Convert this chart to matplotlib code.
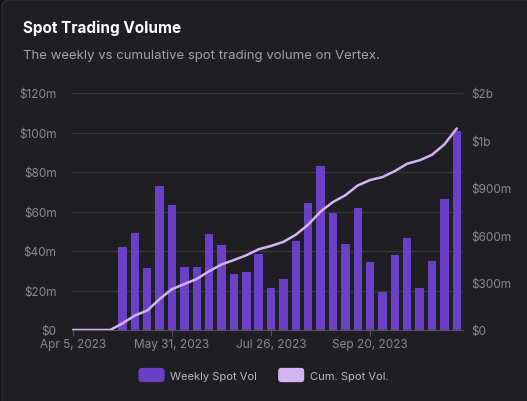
import numpy as np
import pandas as pd
import matplotlib
matplotlib.use("Agg")
import matplotlib.pyplot as plt
from matplotlib.patches import FancyBboxPatch, Patch
from matplotlib.legend_handler import HandlerPatch

# weekly spot volume in $m, one entry per week starting Apr 5, 2023
weeks = pd.date_range("2023-04-05", periods=32, freq="7D")
weekly_vol = [0, 0, 0, 0,
              42.2, 49.3, 31.2, 72.9, 63.1, 32.1, 32.1, 48.8, 43.2, 28.2,
              29.4, 38.3, 21.1, 25.8, 44.9, 64.5, 83.2, 59.2, 43.5, 61.6,
              34.6, 19.2, 37.8, 46.6, 21.4, 34.9, 66.2, 100.8]
# cumulative spot volume in $m
cum_vol = [0, 0, 0, 0,
           42, 92, 123, 196, 259, 291, 323, 372, 415, 443,
           473, 511, 532, 558, 603, 667, 750, 810, 853, 915,
           949, 968, 1006, 1053, 1074, 1109, 1175, 1276]

left_ticks = [0, 20, 40, 60, 80, 100, 120]
left_labels = ["$0", "$20m", "$40m", "$60m", "$80m", "$100m", "$120m"]
right_ticks = [0, 300, 600, 900, 1200, 1500]
right_labels = ["$0", "$300m", "$600m", "$900m", "$1b", "$2b"]
xtick_idx = [0, 8, 16, 24]

BG = "#1f1e23"
GRID = "#36353b"
TXT = "#8b8a91"
BAR = "#6940c6"
LINE = "#d2b4f2"

plt.rcParams["font.family"] = ["Inter", "DejaVu Sans"]

fig = plt.figure(figsize=(5.27, 4.02), dpi=100)
fig.patch.set_facecolor("#141317")
card = FancyBboxPatch((2 / 527, -0.05), 1.2, 1.05 - 1 / 402,
                      boxstyle="round,pad=0,rounding_size=0.015",
                      transform=fig.transFigure, facecolor=BG,
                      edgecolor="#2e2d33", linewidth=1, zorder=-10)
fig.patches.append(card)

fig.text(23 / 527, 1 - 33 / 402, "Spot Trading Volume", color="white",
         fontsize=11, fontweight="bold", va="baseline")
fig.text(23 / 527, 1 - 59 / 402,
         "The weekly vs cumulative spot trading volume on Vertex.",
         color="#a3a2a9", fontsize=9.5, va="baseline")

ax = fig.add_axes([72 / 527, 1 - 331 / 402, 391 / 527, 237 / 402])
ax.set_facecolor("none")
x = np.arange(len(weeks))
ax.bar(x, weekly_vol, width=0.68, color=BAR, zorder=2)
ax.set_xlim(-0.08, 31.5)
ax.set_ylim(0, 120)
ax.set_yticks(left_ticks)
ax.set_yticklabels(left_labels)
ax.set_xticks(xtick_idx)
ax.set_xticklabels([f"{weeks[i]:%b} {weeks[i].day}, {weeks[i].year}" for i in xtick_idx])
ax.grid(axis="y", color=GRID, linewidth=1, zorder=0)
for s in ["top", "right", "left"]:
    ax.spines[s].set_visible(False)
ax.spines["bottom"].set_color("#55545a")
ax.tick_params(axis="y", length=0, pad=11, labelcolor=TXT, labelsize=8.5)
ax.tick_params(axis="x", length=4, color="#55545a", pad=2, labelcolor=TXT, labelsize=8.5)

ax2 = ax.twinx()
ax2.plot(x, cum_vol, color=LINE, linewidth=1.8, zorder=3, solid_capstyle="round")
ax2.set_ylim(0, 1500)
ax2.set_yticks(right_ticks)
ax2.set_yticklabels(right_labels)
ax2.tick_params(axis="y", length=0, pad=6, labelcolor=TXT, labelsize=8.5)
for s in ax2.spines.values():
    s.set_visible(False)


def rounded(legend, orig_handle, xdescent, ydescent, width, height, fontsize):
    return FancyBboxPatch((-xdescent, -ydescent), width, height,
                          boxstyle="round,pad=0,rounding_size=2.5")


handles = [Patch(facecolor=BAR, edgecolor="none"), Patch(facecolor=LINE, edgecolor="none")]
leg = fig.legend(handles, ["Weekly Spot Vol", "Cum. Spot Vol."], loc="center",
                 bbox_to_anchor=(0.5, 1 - 376 / 402), ncol=2, frameon=False,
                 fontsize=8, labelcolor="#b9b8be", handlelength=2.35, handleheight=1.6,
                 handletextpad=0.5, columnspacing=1.9,
                 handler_map={Patch: HandlerPatch(patch_func=rounded)})

fig.savefig("out.png", dpi=100, facecolor=fig.get_facecolor())
